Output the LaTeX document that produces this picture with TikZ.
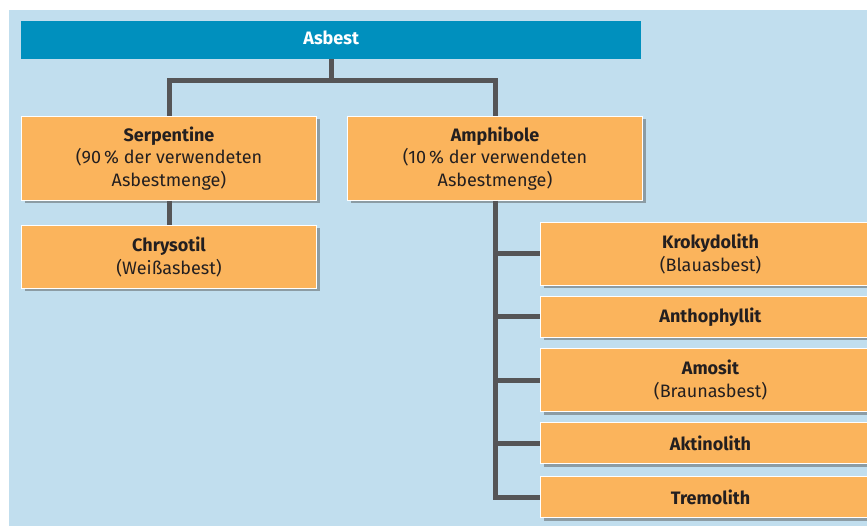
\documentclass[tikz,border=0pt]{standalone}
\usepackage{fontspec}
\setmainfont{Fira Sans}
\usepackage{tikz}
\usetikzlibrary{positioning,calc,shadows}
\definecolor{asbestblue}{RGB}{0,144,190}
\definecolor{fiberorange}{RGB}{251,180,92}
\definecolor{panelblue}{RGB}{193,222,238}
\definecolor{treegray}{RGB}{85,85,87}
\definecolor{textdark}{RGB}{35,31,32}
\tikzset{
  headbar/.style={
    fill=asbestblue,text=white,font=\bfseries,inner sep=0pt,
    minimum width=620pt,minimum height=38pt,text depth=5pt
  },
  mineralbox/.style={
    draw=white,line width=1pt,fill=fiberorange,text=textdark,
    align=center,inner sep=0pt,
    drop shadow={shadow xshift=3pt,shadow yshift=-3pt,fill=black!70,opacity=0.45}
  },
  groupbox/.style={mineralbox,minimum width=295pt,minimum height=84pt},
  typebox/.style={mineralbox,minimum width=295pt,minimum height=63pt},
  fiberbox/.style={mineralbox,minimum width=340pt,minimum height=63pt},
  slimbox/.style={mineralbox,minimum width=340pt,minimum height=41pt},
  treeline/.style={draw=treegray,line width=5pt}
}

\begin{document}
\fontsize{18}{22.5}\selectfont
\begin{tikzpicture}[x=1pt,y=-1pt,node distance=10pt]
  \useasboundingbox (0,0) rectangle (867,526);
  \clip (0,0) rectangle (867,526);
  \fill[white] (0,0) rectangle (867,526);
  \fill[panelblue] (9,10) rectangle (867,526);

  \node[headbar,anchor=north west] (asbest) at (21,21) {Asbest};
  \node[groupbox,anchor=north west] (serpentine) at (21,116) {
    \textbf{Serpentine}\\(90\,\% der verwendeten\\Asbestmenge)
  };
  \node[typebox,anchor=north west] (chrysotil) at (21,225) {
    \textbf{Chrysotil}\\(Weißasbest)
  };
  \node[groupbox,anchor=north west] (amphibole) at (347,116) {
    \textbf{Amphibole}\\(10\,\% der verwendeten\\Asbestmenge)
  };
  \node[fiberbox,anchor=north west] (krokydolith) at (540,222) {
    \textbf{Krokydolith}\\(Blauasbest)
  };
  \node[slimbox,below=of krokydolith] (anthophyllit) {\textbf{Anthophyllit}};
  \node[fiberbox,below=of anthophyllit] (amosit) {
    \textbf{Amosit}\\(Braunasbest)
  };
  \node[slimbox,below=of amosit] (aktinolith) {\textbf{Aktinolith}};
  \node[slimbox,below=12pt of aktinolith] (tremolith) {\textbf{Tremolith}};

  % tree
  \coordinate (fork) at ($(asbest.south)+(0,21)$);
  \draw[treeline] (asbest.south) -- (fork) -| (serpentine.north);
  \draw[treeline] (fork) -| (amphibole.north);
  \draw[treeline] (serpentine.south) -- (chrysotil.north);
  \draw[treeline] (amphibole.south) |- (tremolith.west);
  \foreach \mineral in {krokydolith,anthophyllit,amosit,aktinolith}
    \draw[treeline] (amphibole.south |- \mineral.west) -- (\mineral.west);
\end{tikzpicture}
\end{document}
